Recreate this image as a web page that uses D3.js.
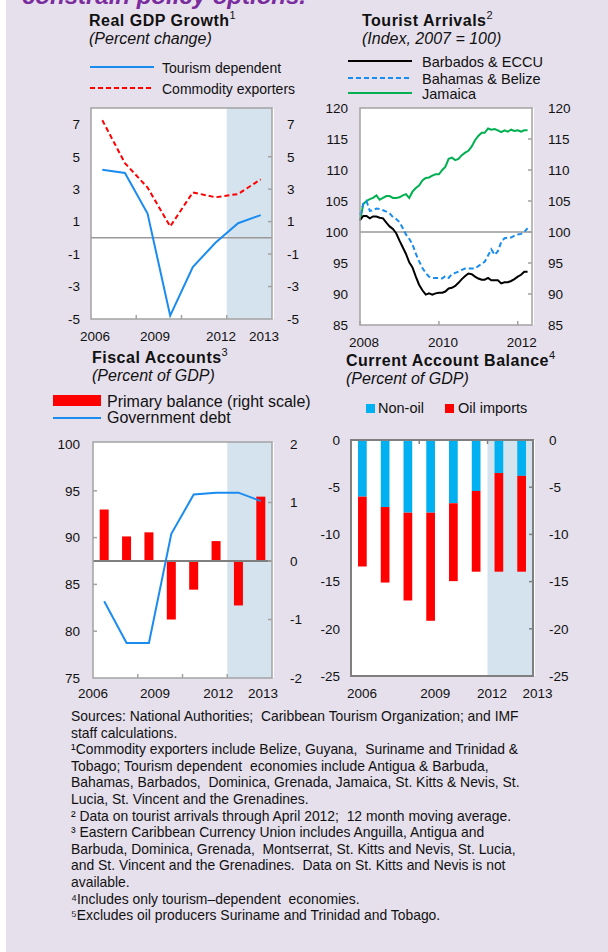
<!DOCTYPE html>
<meta charset="utf-8">
<script src="https://cdnjs.cloudflare.com/ajax/libs/d3/7.8.5/d3.min.js"></script>
<style>
body { margin: 0; background: #fff; }
svg { display: block; font-family: "Liberation Sans", Arial, sans-serif; }
.tick text { font-size: 13.5px; fill: #111; }
</style>
<body>
<script>

// ---- data ----
var years = [2006, 2007, 2008, 2009, 2010, 2011, 2012, 2013];
var projStart = 6; // 2012 onward is shaded

var gdpTourism   = [4.2, 4.0, 1.5, -4.8, -1.8, -0.3, 0.9, 1.4];
var gdpCommodity = [7.25, 4.6, 3.1, 0.7, 2.8, 2.5, 2.7, 3.6];
var gdpTicks = [-5, -3, -1, 1, 3, 5, 7];

// monthly, Jan 2008 .. Apr 2012
var arrBarbados = [101.9, 102.6, 102.6, 102.2, 102.5, 102.5, 102.3, 102.2, 101.5, 100.9, 100.5, 99.8,
  98.6, 97.5, 96.5, 95.1, 94.3, 92.8, 91.5, 90.6, 89.9, 90.1, 89.9, 90.1,
  90.2, 90.2, 90.4, 90.9, 91.0, 91.3, 91.8, 92.4, 92.9, 93.3, 93.2, 92.8,
  92.5, 92.3, 92.3, 92.6, 92.2, 92.2, 92.2, 91.7, 91.9, 91.9, 92.1, 92.4,
  92.8, 93.1, 93.6, 93.6];
var arrBahamas = [102.7, 104.6, 105.0, 103.4, 103.5, 103.8, 103.7, 103.5, 103.3, 103.0, 102.4, 102.1,
  101.6, 100.6, 99.6, 98.9, 98.0, 96.5, 95.3, 94.2, 93.4, 92.8, 92.6, 92.6,
  92.6, 92.5, 92.9, 92.6, 93.2, 93.4, 93.6, 93.9, 94.1, 94.1, 94.1, 94.1,
  94.5, 94.9, 95.2, 96.2, 97.2, 96.3, 96.9, 98.4, 99.0, 99.1, 99.1, 99.4,
  99.6, 99.7, 100.0, 100.6];
var arrJamaica = [101.8, 104.5, 105.0, 105.3, 105.5, 105.9, 105.2, 105.5, 105.8, 105.8, 105.5, 105.5,
  105.6, 105.9, 106.1, 105.5, 106.5, 107.1, 107.5, 108.3, 108.7, 108.8, 109.1, 109.3,
  109.3, 110.0, 110.5, 111.8, 112.0, 111.6, 111.8, 112.4, 112.8, 113.1, 113.8, 114.8,
  115.5, 116.0, 116.0, 116.7, 116.5, 116.6, 116.4, 116.1, 116.4, 116.2, 116.5, 116.3,
  116.4, 116.2, 116.4, 116.4];
var arrTicks = [85, 90, 95, 100, 105, 110, 115, 120];
var arrYears = [2008, 2010, 2012];

var primaryBalance = [0.88, 0.42, 0.49, -1.0, -0.49, 0.34, -0.76, 1.1];
var govDebt = [83.2, 78.75, 78.75, 90.4, 94.6, 94.8, 94.8, 93.9];
var debtTicks = [75, 80, 85, 90, 95, 100];
var balanceTicks = [-2, -1, 0, 1, 2];

var caNonOil = [-6.0, -7.1, -7.7, -7.7, -6.7, -5.4, -3.5, -3.8];
var caOil = [-7.4, -8.0, -9.3, -11.45, -8.25, -8.55, -10.45, -10.15];
var caTicks = [0, -5, -10, -15, -20, -25];

var yearLabels = ["2006", "2009", "2012", "2013"];

// ---- drawing ----
var W = 608, H = 952;
var blue = "#1a8cf0", red = "#ff0000", shade = "#d5e3ee", frame = "#a3a3a3";
var plain = function(d) { return String(d); }; // hyphen minus, as in the source

var svg = d3.select("body").append("svg").attr("width", W).attr("height", H);
svg.append("rect").attr("x", 6).attr("y", 0).attr("width", W - 6).attr("height", H).attr("fill", "#e6e0ec");

svg.append("text").attr("x", 22).attr("y", 4)
  .style("font-size", "24px").style("font-weight", "bold").style("font-style", "italic")
  .attr("fill", "#7a2c9e").text("constrain policy options.");

function title(x, y, main, sup, sub) {
  var t = svg.append("text").attr("x", x).attr("y", y)
    .style("font-size", "16px").style("font-weight", "bold").style("letter-spacing", "0.5px").attr("fill", "#111");
  t.append("tspan").text(main);
  t.append("tspan").attr("dy", -7).style("font-size", "11px").style("font-weight", "normal").style("letter-spacing", "0").text(sup);
  svg.append("text").attr("x", x).attr("y", y + 17.5)
    .style("font-size", "16px").style("font-style", "italic").attr("fill", "#111").text(sub);
}

function legendText(x, y, s, size) {
  svg.append("text").attr("x", x).attr("y", y).style("font-size", (size || 14) + "px").attr("fill", "#111").text(s);
}

function yAxes(g, yL, yR, ticksL, ticksR, x0, x1, padL, padR) {
  g.append("g").attr("transform", "translate(" + x0 + ",0)")
    .call(d3.axisLeft(yL).tickValues(ticksL).tickSize(0).tickPadding(padL).tickFormat(plain))
    .call(function(a) { a.select(".domain").remove(); });
  g.append("g").attr("transform", "translate(" + x1 + ",0)")
    .call(d3.axisRight(yR).tickValues(ticksR).tickSize(0).tickPadding(padR).tickFormat(plain))
    .call(function(a) { a.select(".domain").remove(); });
  // inward ticks on the right edge
  g.selectAll(null).data(ticksR.slice(1, -1)).enter().append("line")
    .attr("x1", x1 - 4).attr("x2", x1).attr("y1", function(d) { return yR(d); }).attr("y2", function(d) { return yR(d); })
    .attr("stroke", frame).attr("stroke-width", 1.5);
}

function yearAxis(g, x0, x1, y, pos, tickAt, top) {
  var u = d3.scaleLinear().domain([0, 8]).range([x0, x1]);
  g.selectAll(null).data(yearLabels).enter().append("text")
    .attr("x", function(d, i) { return u(pos[i]); }).attr("y", y)
    .attr("text-anchor", "middle").style("font-size", "13.5px").attr("fill", "#111").text(function(d) { return d; });
  g.selectAll(null).data(tickAt).enter().append("line")
    .attr("x1", function(d) { return u(d); }).attr("x2", function(d) { return u(d); })
    .attr("y1", top).attr("y2", top - 4)
    .attr("stroke", frame).attr("stroke-width", 1.5);
}

function box(g, x0, y0, x1, y1, shadeFrom) {
  g.append("rect").attr("x", x0).attr("y", y0).attr("width", x1 - x0 + 2).attr("height", y1 - y0).attr("fill", "#fff");
  if (shadeFrom != null)
    g.append("rect").attr("x", shadeFrom).attr("y", y0).attr("width", x1 - shadeFrom).attr("height", y1 - y0).attr("fill", shade);
}
function boxFrame(g, x0, y0, x1, y1, col, sw) {
  g.append("rect").attr("x", x0).attr("y", y0).attr("width", x1 - x0).attr("height", y1 - y0)
    .attr("fill", "none").attr("stroke", col || frame).attr("stroke-width", sw || 1.5);
}

// ---- Panel 1: Real GDP growth ----
(function() {
  var g = svg.append("g");
  var x0 = 91, x1 = 272, y0 = 108, y1 = 319;
  var x = d3.scaleBand().domain(years).range([x0, x1]);
  var y = d3.scaleLinear().domain([-5, 8]).range([y1, y0]);
  title(89, 26, "Real GDP Growth", "1", "(Percent change)");
  g.append("line").attr("x1", 90).attr("x2", 154).attr("y1", 67).attr("y2", 67).attr("stroke", blue).attr("stroke-width", 2);
  legendText(162, 73, "Tourism dependent");
  g.append("line").attr("x1", 90).attr("x2", 154).attr("y1", 88).attr("y2", 88).attr("stroke", red).attr("stroke-width", 2).attr("stroke-dasharray", "5,3");
  legendText(162, 94, "Commodity exporters");

  box(g, x0, y0, x1, y1, x(years[projStart]));
  g.append("line").attr("x1", x0).attr("x2", x1).attr("y1", y(0)).attr("y2", y(0)).attr("stroke", "#999").attr("stroke-width", 1.5);
  var line = d3.line().x(function(d, i) { return x(years[i]) + x.bandwidth() / 2; }).y(function(d) { return y(d); });
  g.append("path").attr("d", line(gdpCommodity)).attr("fill", "none").attr("stroke", red).attr("stroke-width", 2).attr("stroke-dasharray", "5,3");
  g.append("path").attr("d", line(gdpTourism)).attr("fill", "none").attr("stroke", blue).attr("stroke-width", 2);
  boxFrame(g, x0, y0, x1, y1);
  yAxes(g, y, y, gdpTicks, gdpTicks, x0, x1, 11, 15);
  yearAxis(g, x0, x1, 341, [0.18, 2.83, 5.75, 7.65], [2, 4, 6], y1);
})();

// ---- Panel 2: Tourist arrivals ----
(function() {
  var g = svg.append("g");
  var x0 = 360, x1 = 532, y0 = 108, y1 = 325;
  var x = d3.scaleTime().domain([new Date(2008, 0, 1), new Date(2012, 4, 12)]).range([x0, x1]);
  var y = d3.scaleLinear().domain([85, 120]).range([y1, y0]);
  title(362, 26, "Tourist Arrivals", "2", "(Index, 2007 = 100)");
  var leg = [["Barbados & ECCU", "#000", null, 61], ["Bahamas & Belize", "#1a8cf0", "5,3", 78], ["Jamaica", "#00b050", null, 93]];
  leg.forEach(function(l) {
    g.append("line").attr("x1", 348).attr("x2", 412).attr("y1", l[3]).attr("y2", l[3]).attr("stroke", l[1]).attr("stroke-width", 2).attr("stroke-dasharray", l[2]);
    legendText(422, l[3] + 6, l[0], 14.5);
  });

  box(g, x0, y0, x1, y1, null);
  g.append("line").attr("x1", x0).attr("x2", x1).attr("y1", y(100)).attr("y2", y(100)).attr("stroke", "#999").attr("stroke-width", 1.5);
  var line = d3.line().x(function(d, i) { return x(new Date(2008, i, 1)); }).y(function(d) { return y(d); });
  g.append("path").attr("d", line(arrJamaica)).attr("fill", "none").attr("stroke", "#00b050").attr("stroke-width", 2);
  g.append("path").attr("d", line(arrBahamas)).attr("fill", "none").attr("stroke", "#1a8cf0").attr("stroke-width", 2).attr("stroke-dasharray", "5,3");
  g.append("path").attr("d", line(arrBarbados)).attr("fill", "none").attr("stroke", "#000").attr("stroke-width", 2);
  boxFrame(g, x0, y0, x1, y1);
  yAxes(g, y, y, arrTicks, arrTicks, x0, x1, 12, 16);
  g.selectAll(null).data(arrYears).enter().append("line")
    .attr("x1", function(d) { return x(new Date(d, 0, 1)); }).attr("x2", function(d) { return x(new Date(d, 0, 1)); })
    .attr("y1", y1).attr("y2", y1 - 4).attr("stroke", frame).attr("stroke-width", 1.5);
  g.selectAll(null).data(arrYears).enter().append("text")
    .attr("x", function(d) { return x(new Date(d, 0, 1)) + 4; }).attr("y", 347)
    .attr("text-anchor", "middle").style("font-size", "13.5px").attr("fill", "#111").text(function(d) { return d; });
})();

// ---- Panel 3: Fiscal accounts ----
(function() {
  var g = svg.append("g");
  var x0 = 93, x1 = 272, y0 = 444, y1 = 678;
  var x = d3.scaleBand().domain(years).range([x0, x1]);
  var yL = d3.scaleLinear().domain([75, 100]).range([y1, y0]);
  var yR = d3.scaleLinear().domain([-2, 2]).range([y1, y0]);
  title(92, 363, "Fiscal Accounts", "3", "(Percent of GDP)");
  g.append("rect").attr("x", 53).attr("y", 395).attr("width", 48).attr("height", 11).attr("fill", red);
  legendText(107, 407, "Primary balance (right scale)", 16);
  g.append("line").attr("x1", 53).attr("x2", 101).attr("y1", 418).attr("y2", 418).attr("stroke", blue).attr("stroke-width", 2);
  legendText(107, 423, "Government debt", 16);

  box(g, x0, y0 - 2, x1, y1, x(years[projStart]));
  g.selectAll(null).data(primaryBalance).enter().append("rect")
    .attr("x", function(d, i) { return x(years[i]) + (x.bandwidth() - 9) / 2; })
    .attr("width", 9)
    .attr("y", function(d) { return yR(Math.max(0, d)); })
    .attr("height", function(d) { return Math.abs(yR(d) - yR(0)); })
    .attr("fill", red);
  g.append("line").attr("x1", x0).attr("x2", x1).attr("y1", yR(0)).attr("y2", yR(0)).attr("stroke", "#7f7f7f").attr("stroke-width", 2);
  var line = d3.line().x(function(d, i) { return x(years[i]) + x.bandwidth() / 2; }).y(function(d) { return yL(d); });
  g.append("path").attr("d", line(govDebt)).attr("fill", "none").attr("stroke", blue).attr("stroke-width", 2);
  boxFrame(g, x0, y0 - 2, x1, y1);
  g.selectAll(null).data(debtTicks.slice(1, -1)).enter().append("line")
    .attr("x1", x0).attr("x2", x0 + 4).attr("y1", function(d) { return yL(d); }).attr("y2", function(d) { return yL(d); })
    .attr("stroke", frame).attr("stroke-width", 1.5);
  yAxes(g, yL, yR, debtTicks, balanceTicks, x0, x1, 13, 18);
  yearAxis(g, x0, x1, 698, [0, 2.77, 5.6, 7.6], [2, 4, 6], y1);
})();

// ---- Panel 4: Current account ----
(function() {
  var g = svg.append("g");
  var x0 = 351, x1 = 533, y0 = 440, y1 = 676;
  var x = d3.scaleBand().domain(years).range([x0, x1]);
  var y = d3.scaleLinear().domain([-25, 0]).range([y1, y0]);
  title(346, 366, "Current Account Balance", "4", "(Percent of GDP)");
  g.append("rect").attr("x", 366).attr("y", 404).attr("width", 9).attr("height", 9).attr("fill", "#00b0f0");
  legendText(378, 413, "Non-oil", 14.5);
  g.append("rect").attr("x", 445).attr("y", 404).attr("width", 9).attr("height", 9).attr("fill", red);
  legendText(458, 413, "Oil imports", 14.5);

  box(g, x0, y0, x1, y1, x(years[projStart]));
  var bw = 8.7;
  g.selectAll(null).data(caNonOil).enter().append("rect")
    .attr("x", function(d, i) { return x(years[i]) + (x.bandwidth() - bw) / 2; }).attr("width", bw)
    .attr("y", y(0)).attr("height", function(d) { return y(d) - y(0); }).attr("fill", "#00b0f0");
  g.selectAll(null).data(caOil).enter().append("rect")
    .attr("x", function(d, i) { return x(years[i]) + (x.bandwidth() - bw) / 2; }).attr("width", bw)
    .attr("y", function(d, i) { return y(caNonOil[i]); })
    .attr("height", function(d, i) { return y(caNonOil[i] + d) - y(caNonOil[i]); }).attr("fill", red);
  boxFrame(g, x0, y0, x1, y1, "#7f7f7f", 2);
  g.append("g").attr("transform", "translate(" + x0 + ",0)")
    .call(d3.axisLeft(y).tickValues(caTicks).tickSize(0).tickPadding(11).tickFormat(plain))
    .call(function(a) { a.select(".domain").remove(); });
  g.append("g").attr("transform", "translate(" + x1 + ",0)")
    .call(d3.axisRight(y).tickValues(caTicks).tickSize(0).tickPadding(16).tickFormat(plain))
    .call(function(a) { a.select(".domain").remove(); });
  g.selectAll(null).data(caTicks.slice(1, -1)).enter().append("line")
    .attr("x1", x1 - 4).attr("x2", x1).attr("y1", function(d) { return y(d); }).attr("y2", function(d) { return y(d); })
    .attr("stroke", "#7f7f7f").attr("stroke-width", 1.5);
  var u = d3.scaleLinear().domain([0, 8]).range([x0, x1]);
  g.selectAll(null).data([3, 6]).enter().append("line")
    .attr("x1", function(d) { return u(d); }).attr("x2", function(d) { return u(d); })
    .attr("y1", y0).attr("y2", y0 + 4).attr("stroke", "#7f7f7f").attr("stroke-width", 1.5);
  g.selectAll(null).data(yearLabels).enter().append("text")
    .attr("x", function(d, i) { return u([0.48, 3.7, 6.2, 8.2][i]); }).attr("y", 698)
    .attr("text-anchor", "middle").style("font-size", "13.5px").attr("fill", "#111").text(function(d) { return d; });
})();

// ---- Notes ----
var notes = [
  "Sources: National Authorities;  Caribbean Tourism Organization; and IMF",
  "staff calculations.",
  "\u00b9Commodity exporters include Belize, Guyana,  Suriname and Trinidad &",
  "Tobago; Tourism dependent  economies include Antigua & Barbuda,",
  "Bahamas, Barbados,  Dominica, Grenada, Jamaica, St. Kitts & Nevis, St.",
  "Lucia, St. Vincent and the Grenadines.",
  "\u00b2 Data on tourist arrivals through April 2012;  12 month moving average.",
  "\u00b3 Eastern Caribbean Currency Union includes Anguilla, Antigua and",
  "Barbuda, Dominica, Grenada,  Montserrat, St. Kitts and Nevis, St. Lucia,",
  "and St. Vincent and the Grenadines.  Data on St. Kitts and Nevis is not",
  "available.",
  "\u2074Includes only tourism\u2013dependent  economies.",
  "\u2075Excludes oil producers Suriname and Trinidad and Tobago."
];
svg.append("g").selectAll("text").data(notes).enter().append("text")
  .attr("x", 71).attr("y", function(d, i) { return 721 + i * 16.6; })
  .style("font-size", "13.9px").style("white-space", "pre").attr("fill", "#111")
  .text(function(d) { return d; });

</script>
</body>
